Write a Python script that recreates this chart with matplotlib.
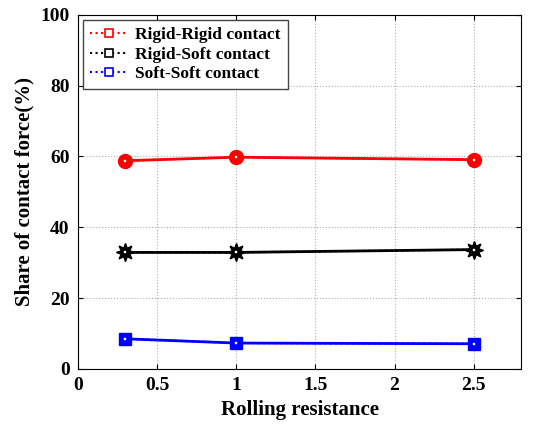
import matplotlib.pyplot as plt

plt.rcParams["font.family"] = ["Liberation Serif", "DejaVu Serif"]
plt.rcParams["font.weight"] = "bold"

rolling = [0.3, 1.0, 2.5]
rigid_rigid = [58.8, 59.8, 59.1]
rigid_soft = [32.9, 32.9, 33.7]
soft_soft = [8.5, 7.3, 7.1]

fig = plt.figure(figsize=(5.34, 4.25), dpi=100)
ax = fig.add_axes([0.146, 0.132, 0.83, 0.833])

series = [
    (rigid_rigid, "red", "o", 10, "Rigid-Rigid contact"),
    (rigid_soft, "black", (8, 1, 0), 13, "Rigid-Soft contact"),
    (soft_soft, "blue", "s", 8, "Soft-Soft contact"),
]
for vals, c, m, ms, lab in series:
    ax.plot(rolling, vals, color=c, marker=m, markersize=ms, linewidth=2)
    ax.plot(rolling, vals, color=c, linestyle=":", linewidth=1.5,
            marker="s", markersize=3.5, markerfacecolor="white",
            markeredgewidth=1.2, label=lab)

ax.set_xlim(0, 2.8)
ax.set_ylim(0, 100)
ax.set_xticks([0, 0.5, 1, 1.5, 2, 2.5])
ax.set_xticklabels(["0", "0.5", "1", "1.5", "2", "2.5"])
ax.set_yticks([0, 20, 40, 60, 80, 100])
ax.tick_params(direction="in", top=True, right=True, labelsize=14, pad=6)
ax.grid(True, linestyle=":", color="#b0b0b0", linewidth=0.8)
ax.set_xlabel("Rolling resistance", fontsize=15, fontweight="bold")
ax.set_ylabel("Share of contact force(%)", fontsize=15, fontweight="bold")

leg = ax.legend(loc="upper left", fontsize=12.5, borderaxespad=0.3,
                handlelength=2.2, handletextpad=0.4, labelspacing=0.2,
                fancybox=False, framealpha=1, edgecolor="#444444",
                markerscale=1.5)
for t in leg.get_texts():
    t.set_fontweight("bold")

plt.savefig("out.png")
plt.close()
